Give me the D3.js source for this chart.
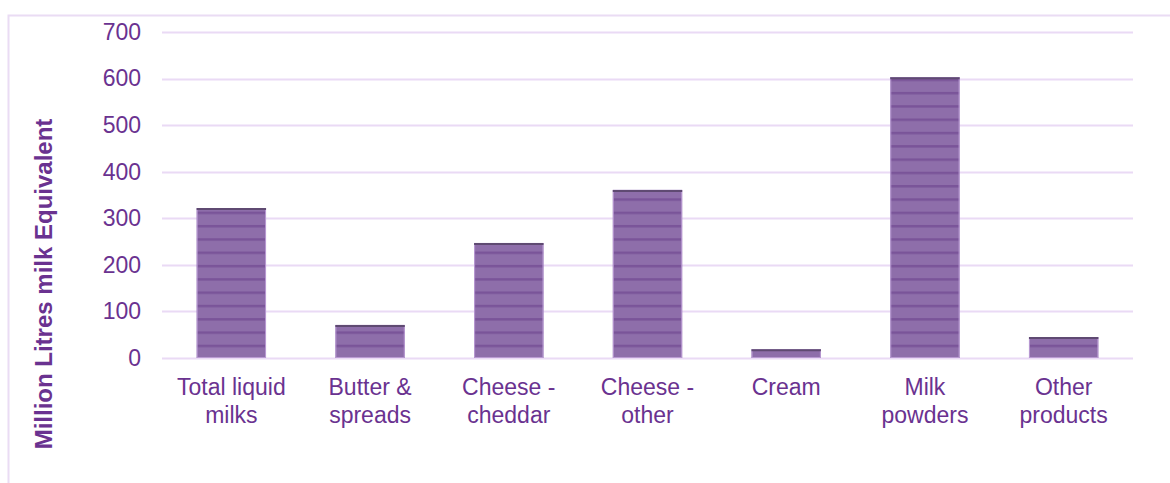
<!DOCTYPE html>
<html><head><meta charset="utf-8">
<script src="https://cdn.jsdelivr.net/npm/d3@7"></script>
<style>body{margin:0;background:#fff}svg{display:block}</style>
</head><body>
<script>
const categories = [["Total liquid","milks"],["Butter &","spreads"],["Cheese -","cheddar"],["Cheese -","other"],["Cream"],["Milk","powders"],["Other","products"]];
const values = [322, 71, 247, 361, 19, 603, 45];
const yTicks = [0,100,200,300,400,500,600,700];

const W=1170,H=483;
const textColor="#6a3290";
const svg=d3.select("body").append("svg").attr("width",W).attr("height",H)
  .style("font-family","'Liberation Sans', Arial, sans-serif");

// outer frame
svg.append("path").attr("d",`M8.5,${H} V15.5 H${W}`).attr("fill","none").attr("stroke","#eadcf4").attr("stroke-width",2);

const m={l:162,r:1133,t:32,b:358};
const x=d3.scaleBand().domain(d3.range(categories.length)).range([m.l,m.r]).paddingInner(0.5).paddingOuter(0.25);
const y=d3.scaleLinear().domain([0,700]).range([m.b,m.t]);

const defs=svg.append("defs");
const pat=defs.append("pattern").attr("id","stripes").attr("patternUnits","userSpaceOnUse")
  .attr("width",10).attr("height",46.57/3.5).attr("y",y(0));
pat.append("rect").attr("width",10).attr("height",46.57/3.5).attr("fill","#8e6eaa");
pat.append("rect").attr("y",0).attr("width",10).attr("height",2.5).attr("fill","#7a5499");

// gridlines
svg.append("g").selectAll("line").data(yTicks).join("line")
  .attr("x1",m.l).attr("x2",m.r).attr("y1",d=>Math.round(y(d))+0.5).attr("y2",d=>Math.round(y(d))+0.5)
  .attr("stroke","#eadaf5").attr("stroke-width",2);

// y axis labels
const yAxis=d3.axisLeft(y).tickValues(yTicks).tickSize(0).tickPadding(0);
const ga=svg.append("g").attr("transform",`translate(141,0)`).call(yAxis);
ga.select(".domain").remove();
ga.selectAll("text").attr("fill",textColor).style("font-size","23px").style("font-family","'Liberation Sans', Arial, sans-serif");

// bars
const bars=svg.append("g").selectAll("g").data(values).join("g");
bars.append("rect").attr("x",(d,i)=>x(i)).attr("width",x.bandwidth())
  .attr("y",d=>y(d)).attr("height",d=>y(0)-y(d)).attr("fill","url(#stripes)");
bars.append("rect").attr("x",(d,i)=>x(i)+0.5).attr("width",x.bandwidth()-1)
  .attr("y",d=>y(d)+0.5).attr("height",d=>y(0)-y(d)-1).attr("fill","none").attr("stroke","#b99ad3").attr("stroke-width",1);
bars.append("line").attr("x1",(d,i)=>x(i)).attr("x2",(d,i)=>x(i)+x.bandwidth())
  .attr("y1",d=>y(d)+1).attr("y2",d=>y(d)+1).attr("stroke","#5f4a72").attr("stroke-width",2);

// x labels
const xl=svg.append("g").selectAll("text").data(categories).join("text")
  .attr("x",(d,i)=>x(i)+x.bandwidth()/2).attr("y",395).attr("text-anchor","middle")
  .attr("fill",textColor).style("font-size","23px");
xl.selectAll("tspan").data(d=>d).join("tspan")
  .attr("x",function(){return this.parentNode.getAttribute("x");})
  .attr("dy",(d,i)=>i?28:0).text(d=>d);

// y title
svg.append("text").attr("transform",`translate(52,${284}) rotate(-90)`).attr("text-anchor","middle")
  .attr("fill",textColor).style("font-size","24px").style("font-weight","bold")
  .text("Million Litres milk Equivalent");
</script>
</body></html>
